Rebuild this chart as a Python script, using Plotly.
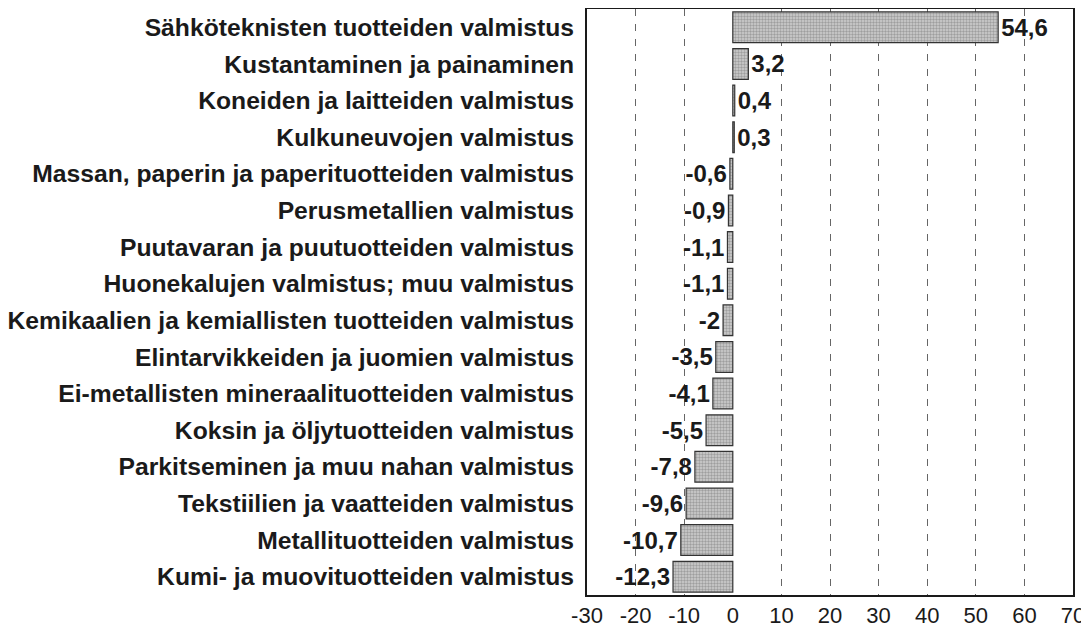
import plotly.graph_objects as go

categories = [
    "Sähköteknisten tuotteiden valmistus",
    "Kustantaminen ja painaminen",
    "Koneiden ja laitteiden valmistus",
    "Kulkuneuvojen valmistus",
    "Massan, paperin ja paperituotteiden valmistus",
    "Perusmetallien valmistus",
    "Puutavaran ja puutuotteiden valmistus",
    "Huonekalujen valmistus; muu valmistus",
    "Kemikaalien ja kemiallisten tuotteiden valmistus",
    "Elintarvikkeiden ja juomien valmistus",
    "Ei-metallisten mineraalituotteiden valmistus",
    "Koksin ja öljytuotteiden valmistus",
    "Parkitseminen ja muu nahan valmistus",
    "Tekstiilien ja vaatteiden valmistus",
    "Metallituotteiden valmistus",
    "Kumi- ja muovituotteiden valmistus",
]
values = [54.6, 3.2, 0.4, 0.3, -0.6, -0.9, -1.1, -1.1, -2, -3.5, -4.1, -5.5, -7.8, -9.6, -10.7, -12.3]
tick_vals = [-30, -20, -10, 0, 10, 20, 30, 40, 50, 60, 70]

labels = [("%g" % v).replace(".", ",") for v in values]

FONT = "Liberation Sans, Arial, sans-serif"

fig = go.Figure(go.Bar(
    x=values, y=categories, orientation="h",
    text=labels, textposition="outside",
    textfont=dict(family=FONT, size=24, color="#1a1a1a", weight="bold"),
    cliponaxis=False,
    width=0.84,
    marker=dict(
        color="#b8b8b8",
        line=dict(color="#333333", width=1.2),
        pattern=dict(shape=".", fgcolor="#6e6e6e", bgcolor="#cfcfcf", size=3, solidity=0.5),
    ),
))

fig.update_layout(
    width=1081, height=622,
    margin=dict(l=579, r=16, t=1, b=35, autoexpand=False),
    paper_bgcolor="white", plot_bgcolor="white",
    showlegend=False,
    bargap=0.16,
    font=dict(family=FONT, color="#1a1a1a"),
)
fig.update_xaxes(
    range=[-30, 70], tickvals=tick_vals, ticktext=[str(t) for t in tick_vals],
    showgrid=True, gridcolor="#666666", gridwidth=1, griddash="7px,8px",
    zeroline=True, zerolinecolor="white", zerolinewidth=3,
    showline=True, mirror=True, linecolor="#1a1a1a", linewidth=2,
    ticks="", tickfont=dict(family=FONT, size=22, color="#1a1a1a"),
    fixedrange=True, automargin=False,
)
fig.update_yaxes(
    autorange="reversed", automargin=False,
    showgrid=False, showline=True, mirror=True, linecolor="#1a1a1a", linewidth=2,
    ticks="", ticklen=0, ticklabelstandoff=6,
    tickfont=dict(family=FONT, size=24.7, color="#1a1a1a", weight="bold"),
)

fig.write_html("out.html")
